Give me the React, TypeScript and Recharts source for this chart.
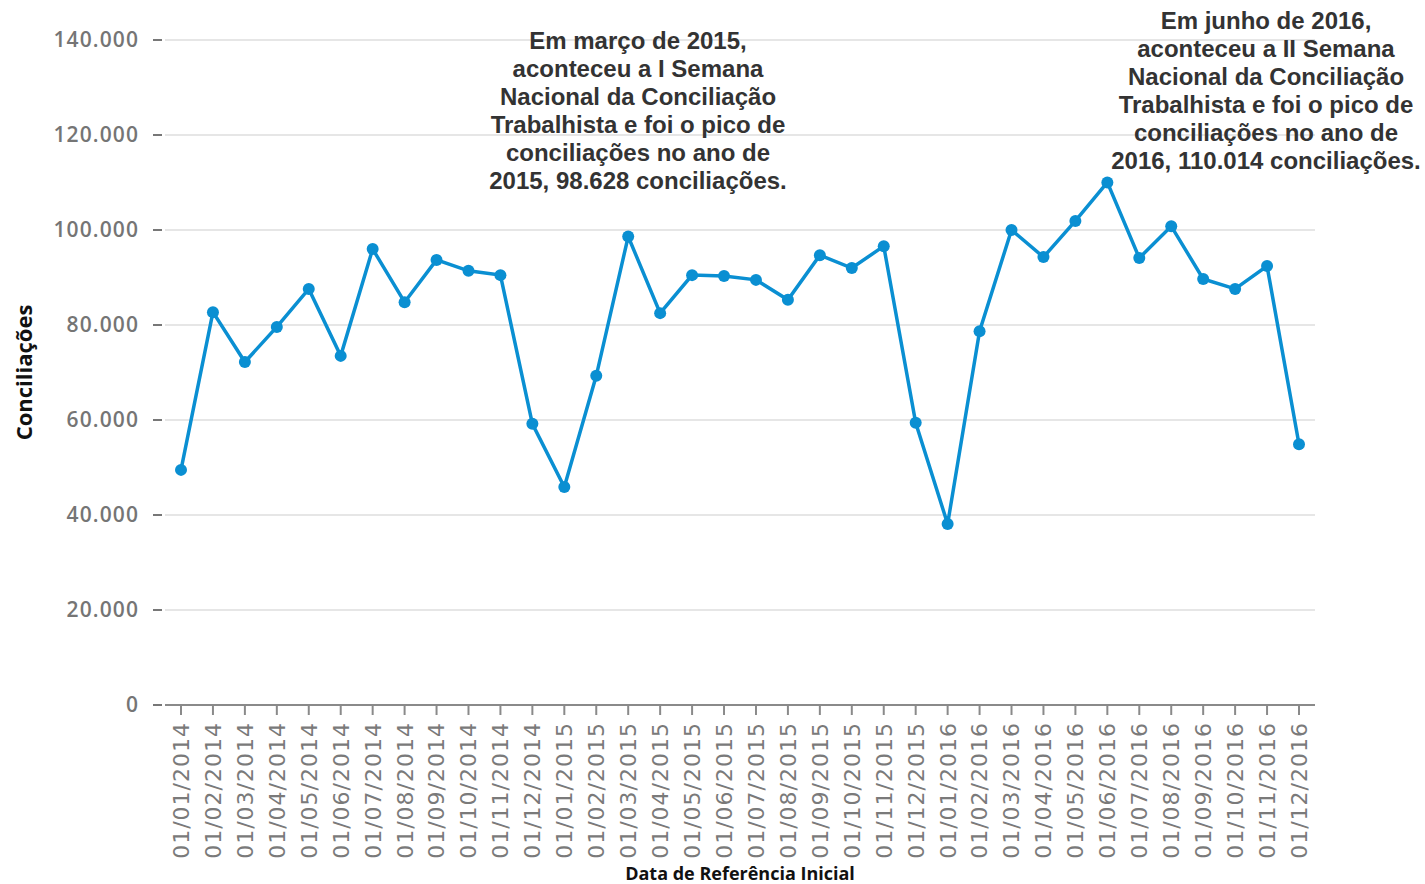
import { LineChart, Line, XAxis, YAxis, CartesianGrid } from "recharts";

// ---------------------------------------------------------------------------
// Data
// ---------------------------------------------------------------------------

const months = [
  "01/01/2014", "01/02/2014", "01/03/2014", "01/04/2014", "01/05/2014", "01/06/2014",
  "01/07/2014", "01/08/2014", "01/09/2014", "01/10/2014", "01/11/2014", "01/12/2014",
  "01/01/2015", "01/02/2015", "01/03/2015", "01/04/2015", "01/05/2015", "01/06/2015",
  "01/07/2015", "01/08/2015", "01/09/2015", "01/10/2015", "01/11/2015", "01/12/2015",
  "01/01/2016", "01/02/2016", "01/03/2016", "01/04/2016", "01/05/2016", "01/06/2016",
  "01/07/2016", "01/08/2016", "01/09/2016", "01/10/2016", "01/11/2016", "01/12/2016",
];

const conciliacoes = [
  49500, 82700, 72200, 79600, 87600, 73500, 96000, 84800, 93700, 91400, 90500, 59200,
  45900, 69300, 98628, 82500, 90500, 90300, 89500, 85300, 94700, 92000, 96600, 59400,
  38100, 78700, 100000, 94300, 101900, 110014, 94100, 100800, 89700, 87600, 92400, 54900,
];

const yTicks = [0, 20000, 40000, 60000, 80000, 100000, 120000, 140000];

const notes = [
  {
    cx: 638,
    top: 27,
    lines: [
      "Em março de 2015,",
      "aconteceu a I Semana",
      "Nacional da Conciliação",
      "Trabalhista e foi o pico de",
      "conciliações no ano de",
      "2015, 98.628 conciliações.",
    ],
  },
  {
    cx: 1266,
    top: 7,
    lines: [
      "Em junho de 2016,",
      "aconteceu a II Semana",
      "Nacional da Conciliação",
      "Trabalhista e foi o pico de",
      "conciliações no ano de",
      "2016, 110.014 conciliações.",
    ],
  },
];

const chartData = months.map((m, i) => ({ month: m, value: conciliacoes[i] }));

const blue = "#0a8fd2";
const fmt = (v: number) => v.toLocaleString("pt-BR");

function YTick({ x, y, payload }: any) {
  return (
    <g>
      <line x1={x - 12} x2={x - 3} y1={y} y2={y} stroke="#777" strokeWidth={2} />
      <text
        x={x - 26}
        y={y}
        dy="0.35em"
        textAnchor="end"
        fill="#757575"
        fontSize={21}
        fontWeight={600}
        fontFamily="'Open Sans', sans-serif"
        letterSpacing={1.1}
      >
        {fmt(payload.value)}
      </text>
    </g>
  );
}

function XTick({ x, y, payload }: any) {
  return (
    <text
      transform={`translate(${x}, ${y}) rotate(-90)`}
      dy="0.36em"
      textAnchor="end"
      fill="#7a7a7a"
      fontSize={22}
      fontFamily="'DejaVu Sans', sans-serif"
      letterSpacing={1}
    >
      {payload.value}
    </text>
  );
}

export default function App() {
  return (
    <div style={{ position: "absolute", left: 0, top: 0, width: 1425, height: 884, background: "#fff" }}>
      <LineChart
        width={1425}
        height={884}
        data={chartData}
        margin={{ top: 40, right: 110, bottom: 0, left: 0 }}
      >
        <CartesianGrid vertical={false} stroke="#e6e6e6" strokeWidth={2} />
        <XAxis
          dataKey="month"
          interval={0}
          height={179}
          padding={{ left: 16, right: 16 }}
          tick={<XTick />}
          tickSize={10}
          tickMargin={7}
          stroke="#8a8a8a"
          strokeWidth={2}
          tickLine={{ stroke: "#8a8a8a", strokeWidth: 2 }}
          label={{
            value: "Data de Referência Inicial",
            position: "insideBottom",
            offset: 0,
            dy: -4,
            fill: "#111",
            fontSize: 18,
            fontWeight: 700,
            fontFamily: "'Open Sans', sans-serif",
          }}
        />
        <YAxis
          width={165}
          domain={[0, 140000]}
          ticks={yTicks}
          axisLine={false}
          tickLine={false}
          tickSize={0}
          tickMargin={0}
          tick={<YTick />}
          label={{
            value: "Conciliações",
            angle: -90,
            position: "insideLeft",
            offset: 0,
            dx: 24,
            textAnchor: "middle",
            fill: "#111",
            fontSize: 22,
            fontWeight: 700,
            fontFamily: "'Open Sans', sans-serif",
          }}
        />
        <Line
          type="linear"
          dataKey="value"
          stroke={blue}
          strokeWidth={3.5}
          dot={{ r: 6, fill: blue, stroke: blue, strokeWidth: 0 }}
          isAnimationActive={false}
        />
      </LineChart>
      {notes.map((n) => (
        <div
          key={n.cx}
          style={{
            position: "absolute",
            left: n.cx - 250,
            top: n.top,
            width: 500,
            textAlign: "center",
            fontFamily: "'Liberation Sans', Arial, sans-serif",
            fontWeight: 700,
            fontSize: 24,
            lineHeight: "28px",
            color: "#333",
          }}
        >
          {n.lines.map((l) => (
            <div key={l}>{l}</div>
          ))}
        </div>
      ))}
    </div>
  );
}
